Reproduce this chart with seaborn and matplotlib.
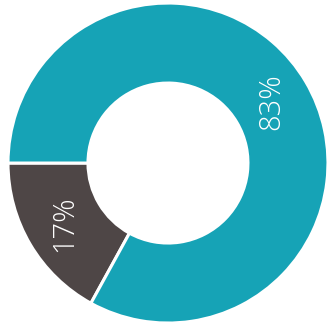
import matplotlib
matplotlib.use("Agg")
import matplotlib.pyplot as plt
import seaborn as sns
import numpy as np

labels = ["17%", "83%"]
shares = [17, 83]
colors = ["#4e4646", "#16a3b6"]

sns.set_theme(style="white")

fig = plt.figure(figsize=(3.31, 3.36), dpi=100)
ax = fig.add_axes([0, 0, 1, 1])

wedges, _ = ax.pie(
    shares,
    colors=colors,
    startangle=180,
    counterclock=True,
    radius=1.0,
    wedgeprops=dict(width=0.5, edgecolor="white", linewidth=2.2),
)

# percentage labels placed along the ring, rotated to read bottom-to-top
for w, lab in zip(wedges, labels):
    mid = np.deg2rad((w.theta1 + w.theta2) / 2)
    r = 0.75
    ax.text(r * np.cos(mid), r * np.sin(mid), lab, rotation=90,
            ha="center", va="center", color="white", fontsize=21,
            family=["Open Sans", "DejaVu Sans"], fontweight="light")

ax.set_xlim(-1.05, 1.019)
ax.set_ylim(-1.081, 1.019)
ax.set_aspect("auto")
ax.axis("off")

fig.savefig("out.png", dpi=100)
plt.close(fig)
